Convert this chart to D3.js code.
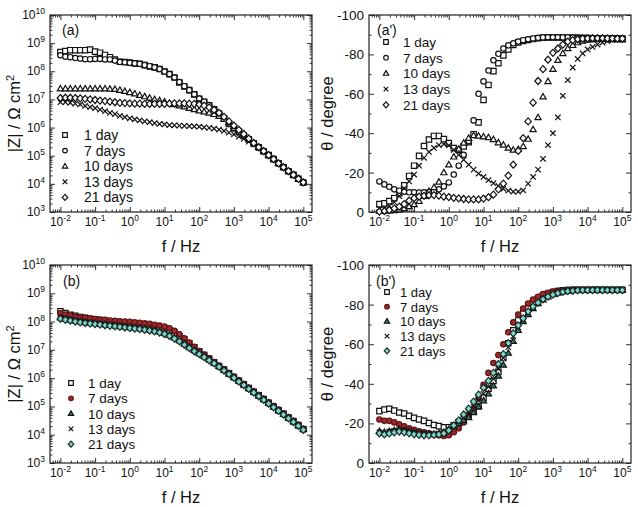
<!DOCTYPE html>
<html>
<head>
<meta charset="utf-8">
<script src="https://cdn.jsdelivr.net/npm/d3@7"></script>
<style>
  body { margin: 0; background: #fff; }
  text { font-family: "Liberation Sans", Arial, sans-serif; fill: #111; }
</style>
</head>
<body>
<svg id="chart" width="638" height="507"></svg>
<script>
// frequencies, 7 points per decade
const freq = [0.01, 0.0139, 0.0193, 0.0268, 0.0373, 0.0518, 0.072,
  0.1, 0.139, 0.193, 0.268, 0.373, 0.518, 0.72,
  1, 1.39, 1.93, 2.68, 3.73, 5.18, 7.2,
  10, 13.9, 19.3, 26.8, 37.3, 51.8, 72,
  100, 139, 193, 268, 373, 518, 720,
  1000, 1390, 1930, 2680, 3730, 5180, 7200,
  10000, 13900, 19300, 26800, 37300, 51800, 72000, 100000];

const seriesNames = ["1 day", "7 days", "10 days", "13 days", "21 days"];

// (a) log10 |Z| (Ohm cm2)
const zA1 = [8.68, 8.72, 8.75, 8.75, 8.75, 8.75, 8.77, 8.7, 8.66, 8.58,
  8.5, 8.42, 8.34, 8.33, 8.31, 8.28, 8.27, 8.22, 8.17, 8.14,
  8.08, 7.99, 7.9, 7.78, 7.6, 7.46, 7.33, 7.18, 7.02, 6.92,
  6.79, 6.65, 6.5, 6.33, 6.13, 5.98, 5.85, 5.71, 5.58, 5.44,
  5.3, 5.16, 5.02, 4.88, 4.73, 4.59, 4.45, 4.32, 4.18, 4.05];
const zA7 = [8.57, 8.52, 8.5, 8.47, 8.45, 8.43, 8.43, 8.44, 8.44, 8.42,
  8.42, 8.38, 8.33, 8.32, 8.3, 8.28, 8.26, 8.22, 8.18, 8.14,
  8.08, 7.99, 7.9, 7.78, 7.62, 7.47, 7.33, 7.18, 7.03, 6.92,
  6.8, 6.66, 6.5, 6.32, 6.14, 5.98, 5.85, 5.71, 5.58, 5.44,
  5.3, 5.16, 5.02, 4.88, 4.73, 4.59, 4.45, 4.32, 4.18, 4.05];
const zA10 = [7.38, 7.38, 7.38, 7.38, 7.38, 7.38, 7.38, 7.38, 7.38, 7.38,
  7.37, 7.36, 7.33, 7.29, 7.25, 7.2, 7.15, 7.1, 7.05, 7.0,
  6.96, 6.92, 6.87, 6.82, 6.78, 6.74, 6.69, 6.64, 6.6, 6.56,
  6.52, 6.47, 6.4, 6.3, 6.18, 6.05, 5.92, 5.77, 5.61, 5.45,
  5.3, 5.16, 5.02, 4.88, 4.73, 4.59, 4.45, 4.32, 4.18, 4.05];
const zA13 = [6.9, 6.9, 6.88, 6.85, 6.82, 6.77, 6.73, 6.69, 6.64, 6.58,
  6.52, 6.48, 6.42, 6.37, 6.33, 6.29, 6.26, 6.22, 6.19, 6.16,
  6.13, 6.11, 6.09, 6.08, 6.07, 6.06, 6.05, 6.04, 6.03, 6.01,
  5.99, 5.96, 5.93, 5.88, 5.82, 5.76, 5.68, 5.6, 5.5, 5.4,
  5.28, 5.15, 5.02, 4.88, 4.73, 4.59, 4.45, 4.32, 4.18, 4.05];
const zA21 = [7.05, 7.06, 7.06, 7.05, 7.04, 7.02, 7.0, 6.98, 6.96, 6.94,
  6.92, 6.9, 6.88, 6.87, 6.86, 6.85, 6.85, 6.84, 6.84, 6.84,
  6.84, 6.84, 6.85, 6.86, 6.86, 6.86, 6.85, 6.84, 6.82, 6.78,
  6.72, 6.63, 6.52, 6.38, 6.22, 6.07, 5.92, 5.77, 5.61, 5.45,
  5.3, 5.16, 5.02, 4.88, 4.73, 4.59, 4.45, 4.32, 4.18, 4.05];

// (a') phase angle, degrees
const pA1 = [-4, -4.4, -5.5, -7, -9.5, -13.5, -18.3, -23.5, -28.5, -33.5,
  -36.8, -38.6, -38.6, -37, -35, -32.5, -31.5, -33.3, -35.4, -39.5,
  -45.5, -56.9, -64.5, -71.5, -75.5, -79.5, -82.5, -84.8, -86.1, -86.8,
  -87.3, -87.8, -88.2, -88.5, -88.6, -88.6, -88.6, -88.5, -88.5, -88.4,
  -88.4, -88.3, -88.3, -88.2, -88.2, -88.1, -88.1, -88, -88, -88];
const pA7 = [-15.5, -14, -12.8, -11.5, -10.8, -10.3, -10, -10, -9.9, -10,
  -10.1, -10.5, -11.5, -13, -15, -19, -23.5, -29, -36, -46.5,
  -60, -66.3, -71.8, -77, -80.3, -83, -84.6, -85.6, -86.5, -87.2,
  -87.7, -88.1, -88.4, -88.6, -88.7, -88.7, -88.7, -88.6, -88.6, -88.5,
  -88.5, -88.4, -88.4, -88.3, -88.3, -88.2, -88.2, -88.2, -88.1, -88.1];
const pA10 = [-0.5, -0.5, -0.6, -0.8, -1.2, -1.8, -2.8, -3.8, -5.5, -8,
  -10.5, -12.5, -15.2, -20, -24, -28, -32, -35, -37.5, -38.8,
  -38.6, -38.2, -37.8, -36.8, -35.2, -34, -32.5, -31.5, -31.8, -33.3,
  -37, -41.9, -48, -58.5, -66.3, -72.5, -77, -80.5, -83, -84.6,
  -86, -86.8, -87.3, -87.6, -87.7, -87.7, -87.7, -87.6, -87.6, -87.5];
const pA13 = [-1.5, -1.8, -3, -5, -8, -12, -15.5, -19, -23.5, -27.5,
  -30.5, -32.5, -34, -34.5, -33.8, -31.5, -29, -26.5, -24, -21.5,
  -19.5, -17.8, -16.2, -14.6, -13.2, -11.8, -10.8, -10.3, -10.3, -11,
  -14.4, -17.8, -21.5, -27, -34, -40, -48, -59, -67, -73.3,
  -77.7, -80.5, -82.5, -83.8, -85, -86, -86.8, -87.4, -87.8, -88];
const pA21 = [-0.2, -0.5, -1, -1.8, -2.7, -4, -5.8, -7, -7.8, -8.2,
  -8.5, -8.6, -8.3, -7.8, -7.6, -7.2, -6.9, -6.6, -6.4, -6.4,
  -6.4, -6.8, -7.5, -8.8, -11.5, -14.4, -18.5, -24, -31, -37.5,
  -46, -55.5, -66.5, -72.5, -77.3, -80.8, -83, -85, -86.5, -87.2,
  -87.7, -88, -88.1, -88.2, -88.2, -88.2, -88.1, -88.1, -88, -88];

// (b) log10 |Z| (Ohm cm2)
const zB1 = [8.36, 8.3, 8.24, 8.2, 8.16, 8.13, 8.1, 8.07, 8.05, 8.03,
  8.0, 7.98, 7.96, 7.94, 7.92, 7.9, 7.88, 7.86, 7.84, 7.81,
  7.78, 7.74, 7.68, 7.6, 7.48, 7.36, 7.23, 7.09, 6.95, 6.82,
  6.69, 6.56, 6.43, 6.3, 6.17, 6.04, 5.91, 5.78, 5.65, 5.52,
  5.39, 5.26, 5.13, 5.0, 4.87, 4.74, 4.61, 4.48, 4.34, 4.2];
const zB7 = [8.29, 8.25, 8.21, 8.18, 8.15, 8.13, 8.11, 8.09, 8.07, 8.06,
  8.04, 8.03, 8.01, 8.0, 7.99, 7.97, 7.96, 7.94, 7.92, 7.89,
  7.86, 7.82, 7.76, 7.67, 7.55, 7.41, 7.26, 7.11, 6.96, 6.83,
  6.7, 6.57, 6.44, 6.31, 6.18, 6.05, 5.92, 5.79, 5.66, 5.53,
  5.4, 5.27, 5.14, 5.01, 4.88, 4.75, 4.62, 4.48, 4.34, 4.2];
const zB10 = [8.14, 8.1, 8.07, 8.04, 8.01, 7.99, 7.97, 7.95, 7.93, 7.91,
  7.89, 7.87, 7.85, 7.83, 7.81, 7.79, 7.77, 7.75, 7.72, 7.69,
  7.65, 7.6, 7.53, 7.44, 7.34, 7.22, 7.1, 6.99, 6.88, 6.77,
  6.66, 6.54, 6.42, 6.29, 6.16, 6.03, 5.9, 5.77, 5.64, 5.51,
  5.38, 5.25, 5.12, 4.99, 4.86, 4.73, 4.6, 4.47, 4.33, 4.19];
const zB13 = [8.12, 8.08, 8.05, 8.02, 7.99, 7.97, 7.95, 7.93, 7.91, 7.89,
  7.87, 7.85, 7.83, 7.81, 7.79, 7.77, 7.75, 7.73, 7.7, 7.67,
  7.63, 7.58, 7.51, 7.42, 7.32, 7.2, 7.08, 6.97, 6.87, 6.76,
  6.65, 6.53, 6.41, 6.28, 6.15, 6.02, 5.89, 5.76, 5.63, 5.5,
  5.37, 5.24, 5.11, 4.98, 4.85, 4.72, 4.59, 4.46, 4.32, 4.18];
const zB21 = [8.1, 8.06, 8.03, 8.0, 7.97, 7.95, 7.93, 7.91, 7.89, 7.87,
  7.85, 7.83, 7.81, 7.79, 7.77, 7.75, 7.73, 7.71, 7.68, 7.65,
  7.61, 7.56, 7.49, 7.4, 7.3, 7.18, 7.06, 6.95, 6.85, 6.74,
  6.63, 6.52, 6.4, 6.27, 6.14, 6.01, 5.88, 5.75, 5.62, 5.49,
  5.36, 5.23, 5.1, 4.97, 4.84, 4.71, 4.58, 4.45, 4.31, 4.17];

// (b') phase angle, degrees
const pB1 = [-26.2, -27, -27.4, -26.5, -25.5, -25, -23.8, -22.8, -22, -21.3,
  -20.2, -19.2, -18.6, -18, -18, -19, -20.5, -22, -24, -26,
  -28.5, -33, -37.5, -41.5, -46, -53, -60.5, -67, -72, -75.5,
  -78.5, -81, -83, -84.5, -85.5, -86.3, -86.9, -87.2, -87.4, -87.5,
  -87.5, -87.5, -87.5, -87.5, -87.5, -87.5, -87.5, -87.5, -87.5, -87.5];
const pB7 = [-22, -21.3, -21.3, -20.5, -19.5, -18.5, -17.5, -16.8, -16, -15.5,
  -15, -14.5, -14, -13.6, -14, -15.5, -17.5, -20.5, -24, -27.5,
  -33, -39.5, -45.5, -50.5, -54.5, -60, -66, -71, -75, -78,
  -80.5, -82.5, -84, -85.3, -86, -86.6, -87, -87.2, -87.3, -87.3,
  -87.3, -87.3, -87.3, -87.3, -87.3, -87.3, -87.3, -87.3, -87.3, -87.3];
const pB10 = [-16, -15.5, -16, -16.5, -17, -16.5, -16, -15.5, -15, -14.5,
  -14.5, -14.5, -15, -15.5, -17, -18.5, -20, -21.5, -23, -25.5,
  -28.5, -31.5, -35, -39, -44, -49.5, -55.5, -61.5, -67, -71.5,
  -75, -78, -80.5, -82.5, -84, -85.2, -86, -86.6, -87, -87.2,
  -87.3, -87.3, -87.3, -87.3, -87.3, -87.3, -87.3, -87.3, -87.3, -87.3];
const pB13 = [-15.5, -15, -15.8, -16.2, -16.5, -16.2, -15.8, -15.3, -15, -14.8,
  -14.6, -14.5, -14.8, -15.3, -16.8, -18.8, -21, -23, -25.5, -28.5,
  -31.5, -35, -38.5, -42.5, -47.5, -53, -58.5, -64, -68.5, -72.5,
  -76, -78.8, -81, -82.8, -84.2, -85.3, -86, -86.6, -87, -87.2,
  -87.3, -87.3, -87.3, -87.3, -87.3, -87.3, -87.3, -87.3, -87.3, -87.3];
const pB21 = [-15, -14.5, -15, -15.5, -15.8, -15.5, -15, -14.5, -14.2, -14,
  -14, -14.2, -14.5, -15, -16.5, -19, -21.5, -24.5, -27.5, -31,
  -34.5, -38, -41.5, -45.5, -50, -55, -60.5, -65.5, -69.5, -73,
  -76.5, -79, -81, -82.7, -84, -85, -85.8, -86.4, -86.8, -87,
  -87.2, -87.3, -87.3, -87.3, -87.3, -87.3, -87.3, -87.3, -87.3, -87.3];

const xTickExps = [-2, -1, 0, 1, 2, 3, 4, 5];
const zTickExps = [3, 4, 5, 6, 7, 8, 9, 10];
const phaseTicks = [-100, -80, -60, -40, -20, 0];

const shapes = ["square", "circle", "triangle", "times", "diamond"];
const plainFill = ["#fff", "#fff", "#fff", "#fff", "#fff"];
const colorFill = ["#fff", "#a3282b", "#2f7d72", "#fff", "#7fd8c8"];
const colorStroke = ["#111", "#5c1414", "#111", "#111", "#1a2a2a"];

const svg = d3.select("#chart");

function markerPath(shape, h) {
  switch (shape) {
    case "square": return `M${-h},${-h}h${2 * h}v${2 * h}h${-2 * h}Z`;
    case "circle": return d3.symbol(d3.symbolCircle, Math.PI * h * h)();
    case "triangle": return `M0,${-h * 1.2}L${h * 1.15},${h * 0.8}L${-h * 1.15},${h * 0.8}Z`;
    case "times": return `M${-h},${-h}L${h},${h}M${-h},${h}L${h},${-h}`;
    case "diamond": return `M0,${-h * 1.3}L${h * 1.2},0L0,${h * 1.3}L${-h * 1.2},0Z`;
  }
}

function powLabel(sel, exp) {
  sel.append("tspan").text("10");
  sel.append("tspan").attr("dy", -5).attr("font-size", 8.5).text(exp);
}

function drawPanel(p) {
  const x = d3.scaleLog().domain([Math.pow(10, -2.3), Math.pow(10, 5.25)]).range([p.left, p.right]);
  const y = p.kind === "mag"
    ? d3.scaleLog().domain([1e3, 1e10]).range([p.bottom, p.top])
    : d3.scaleLinear().domain([0, -100]).range([p.bottom, p.top]);

  const g = svg.append("g");

  // major + minor tick values
  const xMajor = xTickExps.map(e => Math.pow(10, e));
  const xMinor = [];
  for (let e = -3; e <= 5; e++) for (let m = 2; m <= 9; m++) {
    const v = m * Math.pow(10, e);
    if (v > x.domain()[0] && v < x.domain()[1]) xMinor.push(v);
  }
  let yMajor, yMinor = [];
  if (p.kind === "mag") {
    yMajor = zTickExps.map(e => Math.pow(10, e));
    for (let e = 3; e < 10; e++) for (let m = 2; m <= 9; m++) yMinor.push(m * Math.pow(10, e));
  } else {
    yMajor = phaseTicks;
    yMinor = [-90, -70, -50, -30, -10];
  }

  const axes = [
    [d3.axisBottom(x), `translate(0,${p.bottom})`, xMajor, xMinor],
    [d3.axisTop(x), `translate(0,${p.top})`, xMajor, xMinor],
    [d3.axisLeft(y), `translate(${p.left},0)`, yMajor, yMinor],
    [d3.axisRight(y), `translate(${p.right},0)`, yMajor, yMinor]
  ];
  axes.forEach(([ax, tr, major, minor]) => {
    g.append("g").attr("transform", tr)
      .call(ax.tickValues(major).tickSize(-5).tickFormat(""))
      .call(s => s.select(".domain").remove());
    g.append("g").attr("transform", tr)
      .call(ax.tickValues(minor).tickSize(-2.5).tickFormat(""))
      .call(s => s.select(".domain").remove());
  });
  g.selectAll(".tick line").attr("stroke", "#333");

  g.append("rect")
    .attr("x", p.left).attr("y", p.top)
    .attr("width", p.right - p.left).attr("height", p.bottom - p.top)
    .attr("fill", "none").attr("stroke", "#222").attr("stroke-width", 1.2);

  // x tick labels
  xTickExps.forEach(e => {
    const t = g.append("text")
      .attr("x", x(Math.pow(10, e))).attr("y", p.bottom + 14)
      .attr("text-anchor", "middle").attr("font-size", 12);
    powLabel(t, e);
  });
  // y tick labels
  if (p.kind === "mag") {
    zTickExps.forEach(e => {
      const t = g.append("text")
        .attr("x", p.left - 5).attr("y", y(Math.pow(10, e)) + 4)
        .attr("text-anchor", "end").attr("font-size", 12);
      powLabel(t, e);
    });
  } else {
    phaseTicks.forEach(v => {
      g.append("text")
        .attr("x", p.left - 5).attr("y", y(v) + 5)
        .attr("text-anchor", "end").attr("font-size", 13.5)
        .text(v);
    });
  }

  // axis titles
  g.append("text")
    .attr("x", (p.left + p.right) / 2).attr("y", p.bottom + 40)
    .attr("text-anchor", "middle").attr("font-size", 16.5)
    .text("f / Hz");
  const yt = g.append("text")
    .attr("transform", `translate(${p.titleX},${(p.top + p.bottom) / 2}) rotate(-90)`)
    .attr("text-anchor", "middle").attr("font-size", 16.5);
  if (p.kind === "mag") {
    yt.append("tspan").text("|Z| / \u03A9 cm");
    yt.append("tspan").attr("dy", -6).attr("font-size", 11).text("2");
  } else {
    yt.text("\u03B8 / degree");
  }

  // panel tag
  g.append("text").attr("x", p.tagX).attr("y", p.tagY)
    .attr("font-size", 14).text(p.tag);

  // data markers
  p.series.forEach((vals, i) => {
    const pts = freq.map((f, k) => [f, p.kind === "mag" ? Math.pow(10, vals[k]) : vals[k]]);
    g.append("g").selectAll("path").data(pts).join("path")
      .attr("transform", d => `translate(${x(d[0])},${y(d[1])})`)
      .attr("d", markerPath(shapes[i], 2.7))
      .attr("fill", shapes[i] === "times" ? "none" : p.fills[i])
      .attr("stroke", p.strokes[i])
      .attr("stroke-width", 1.2);
  });

  // legend
  seriesNames.forEach((name, i) => {
    const cy = p.legY + i * p.legDy;
    g.append("path")
      .attr("transform", `translate(${p.legX},${cy})`)
      .attr("d", markerPath(shapes[i], 2.3))
      .attr("fill", shapes[i] === "times" ? "none" : p.fills[i])
      .attr("stroke", p.strokes[i]).attr("stroke-width", 1.2);
    g.append("text").attr("x", p.legX + p.legGap).attr("y", cy + 5)
      .attr("font-size", p.legFont).text(name);
  });
}

const panels = [
  { kind: "mag", left: 50, right: 312, top: 15, bottom: 212, titleX: 20,
    tag: "(a)", tagX: 62, tagY: 35, series: [zA1, zA7, zA10, zA13, zA21],
    fills: plainFill, strokes: ["#111", "#111", "#111", "#111", "#111"],
    legX: 65, legY: 135, legDy: 15.6, legGap: 19, legFont: 14 },
  { kind: "phase", left: 369, right: 631, top: 15, bottom: 212, titleX: 333,
    tag: "(a')", tagX: 377, tagY: 35, series: [pA1, pA7, pA10, pA13, pA21],
    fills: plainFill, strokes: ["#111", "#111", "#111", "#111", "#111"],
    legX: 386, legY: 42, legDy: 15.7, legGap: 17, legFont: 13.5 },
  { kind: "mag", left: 50, right: 312, top: 265, bottom: 463, titleX: 20,
    tag: "(b)", tagX: 63, tagY: 286, series: [zB1, zB7, zB10, zB13, zB21],
    fills: colorFill, strokes: colorStroke,
    legX: 71, legY: 383, legDy: 15.3, legGap: 17, legFont: 13.5 },
  { kind: "phase", left: 369, right: 631, top: 265, bottom: 463, titleX: 333,
    tag: "(b')", tagX: 376, tagY: 286, series: [pB1, pB7, pB10, pB13, pB21],
    fills: colorFill, strokes: colorStroke,
    legX: 387, legY: 292, legDy: 14.7, legGap: 13, legFont: 13 }
];

panels.forEach(drawPanel);
</script>
</body>
</html>
